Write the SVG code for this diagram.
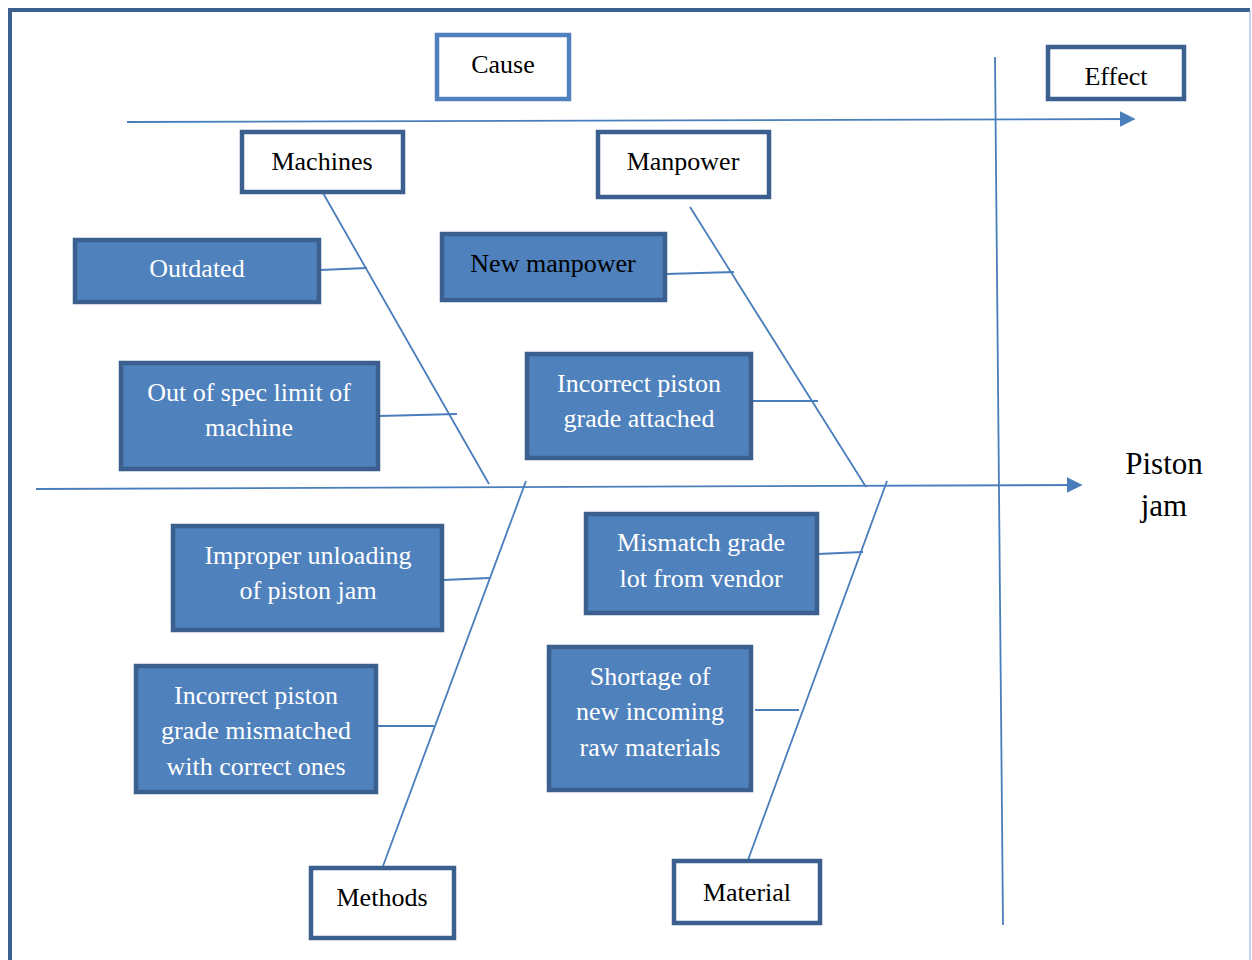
<svg xmlns="http://www.w3.org/2000/svg" width="1252" height="960" viewBox="0 0 1252 960">
<defs>
<style>
.frame{fill:none;stroke:#3b6090;stroke-width:4}
.wbox{fill:#fff;stroke:#3b6090;stroke-width:4.5}
.cbox{fill:#fff;stroke:#4f81bd;stroke-width:4.5}
.bbox{fill:#4f81bd;stroke:#3b6090;stroke-width:4.5}
.ln{stroke:#4a7ebb;stroke-width:1.8;fill:none}
text{font-family:"Liberation Serif","Times New Roman",serif;font-size:26px;text-anchor:middle}
.k{fill:#000}
.w{fill:#fff}
</style>
<marker id="ah2" viewBox="0 0 10 10" refX="9" refY="5" markerWidth="16" markerHeight="16" markerUnits="userSpaceOnUse" orient="auto">
<path d="M0,0 L10,5 L0,10 z" fill="#4a7ebb"/>
</marker>
</defs>
<rect width="1252" height="960" fill="#fff"/>
<path class="frame" d="M10,962 L10,10 L1250,10"/>
<line x1="1250" y1="10" x2="1250" y2="960" stroke="#8faadc" stroke-width="1"/>

<g id="connectors">
<line class="ln" x1="127" y1="122" x2="1134" y2="119" marker-end="url(#ah2)"/>
<line class="ln" x1="995" y1="57" x2="1003" y2="925"/>
<line class="ln" x1="36" y1="489" x2="1081" y2="485" marker-end="url(#ah2)"/>
<line class="ln" x1="323" y1="193" x2="489" y2="484"/>
<line class="ln" x1="320" y1="270" x2="367" y2="268"/>
<line class="ln" x1="379" y1="416" x2="457" y2="414"/>
<line class="ln" x1="690" y1="207" x2="866" y2="487"/>
<line class="ln" x1="666" y1="274" x2="734" y2="272"/>
<line class="ln" x1="752" y1="401" x2="818" y2="401"/>
<line class="ln" x1="526" y1="481" x2="383" y2="866"/>
<line class="ln" x1="443" y1="580" x2="489" y2="578"/>
<line class="ln" x1="377" y1="726" x2="434" y2="726"/>
<line class="ln" x1="887" y1="481" x2="748" y2="860"/>
<line class="ln" x1="818" y1="554" x2="863" y2="552"/>
<line class="ln" x1="755" y1="710" x2="799" y2="710"/>
</g>

<g id="cause"><rect class="cbox" x="437" y="35" width="132" height="64"/><text class="k" x="503" y="73">Cause</text></g>
<g id="effect"><rect class="wbox" x="1048" y="47" width="136" height="52"/><text class="k" x="1116" y="85">Effect</text></g>
<g id="machines"><rect class="wbox" x="242" y="132" width="161" height="60"/><text class="k" x="322" y="170">Machines</text></g>
<g id="manpower"><rect class="wbox" x="598" y="132" width="171" height="65"/><text class="k" x="683" y="170">Manpower</text></g>
<g id="outdated"><rect class="bbox" x="75" y="240" width="244" height="62"/><text class="w" x="197" y="277">Outdated</text></g>
<g id="outofspec"><rect class="bbox" x="121" y="363" width="257" height="106"/><text class="w" x="249" y="401">Out of spec limit of</text><text class="w" x="249" y="436">machine</text></g>
<g id="newmanpower"><rect class="bbox" x="442" y="234" width="223" height="66"/><text class="k" x="553" y="272">New manpower</text></g>
<g id="incorrectattached"><rect class="bbox" x="527" y="354" width="224" height="104"/><text class="w" x="639" y="392">Incorrect piston</text><text class="w" x="639" y="427">grade attached</text></g>
<g id="improper"><rect class="bbox" x="173" y="526" width="269" height="104"/><text class="w" x="308" y="564">Improper unloading</text><text class="w" x="308" y="599">of piston jam</text></g>
<g id="incorrectmismatched"><rect class="bbox" x="136" y="666" width="240" height="126"/><text class="w" x="256" y="704">Incorrect piston</text><text class="w" x="256" y="739">grade mismatched</text><text class="w" x="256" y="775">with correct ones</text></g>
<g id="mismatch"><rect class="bbox" x="586" y="514" width="231" height="99"/><text class="w" x="701" y="551">Mismatch grade</text><text class="w" x="701" y="587">lot from vendor</text></g>
<g id="shortage"><rect class="bbox" x="549" y="647" width="202" height="143"/><text class="w" x="650" y="685">Shortage of</text><text class="w" x="650" y="720">new incoming</text><text class="w" x="650" y="756">raw materials</text></g>
<g id="methods"><rect class="wbox" x="311" y="868" width="143" height="70"/><text class="k" x="382" y="906">Methods</text></g>
<g id="material"><rect class="wbox" x="674" y="861" width="146" height="62"/><text class="k" x="747" y="901">Material</text></g>
<g id="effectlabel"><text class="k" x="1164" y="474" style="font-size:31px">Piston</text><text class="k" x="1164" y="516" style="font-size:31px">jam</text></g>
</svg>
